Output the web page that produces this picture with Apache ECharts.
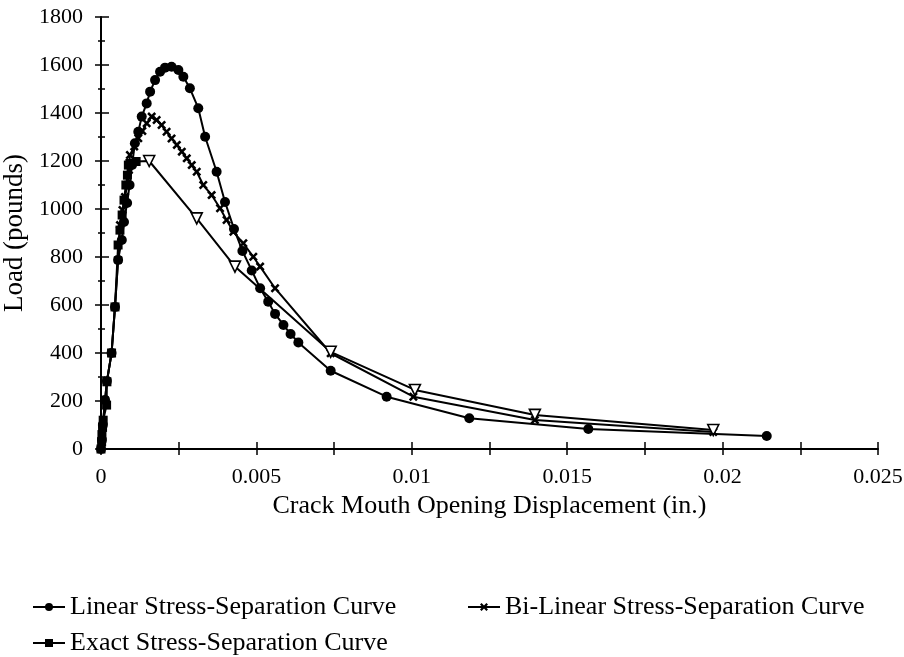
<!DOCTYPE html>
<html>
<head>
<meta charset="utf-8">
<script src="https://cdn.jsdelivr.net/npm/echarts@6/dist/echarts.min.js"></script>
<style>
  html, body { margin: 0; padding: 0; background: #fff; }
  #chart { width: 904px; height: 657px; }
</style>
</head>
<body>
<div id="chart"></div>
<script>
// Load vs. crack mouth opening displacement for three stress-separation laws
const seriesNames = [
  'Linear Stress-Separation Curve',
  'Bi-Linear Stress-Separation Curve',
  'Exact Stress-Separation Curve'
];

const linX = [0, 0.00003, 0.00006, 0.00013, 0.00019, 0.00034, 0.00045, 0.00055, 0.00067, 0.00074,
  0.00084, 0.00092, 0.0010, 0.00109, 0.0012, 0.00131, 0.00147, 0.00158, 0.00174, 0.0019,
  0.00206, 0.00227, 0.00249, 0.00265, 0.00286, 0.00313, 0.00335, 0.00372, 0.00399, 0.00428,
  0.00455, 0.00485, 0.00512, 0.00538, 0.0056, 0.00587, 0.0061, 0.00635, 0.00739, 0.00919,
  0.01185, 0.01568, 0.02142];
const linY = [0, 37, 100, 204, 283, 400, 592, 788, 871, 946,
  1025, 1100, 1183, 1274, 1322, 1385, 1440, 1489, 1537, 1572,
  1589, 1593, 1579, 1551, 1503, 1420, 1301, 1155, 1029, 917,
  825, 744, 670, 614, 563, 517, 479, 444, 326, 218,
  128, 83, 54];

const biX = [0, 0.00003, 0.00006, 0.00013, 0.00019, 0.00034, 0.00045, 0.00055, 0.00061, 0.00069,
  0.00077, 0.00085, 0.0009, 0.00093, 0.00107, 0.0012, 0.00133, 0.00147, 0.00163, 0.00179,
  0.00195, 0.00211, 0.00227, 0.00244, 0.0026, 0.00276, 0.00292, 0.00308, 0.00329, 0.00356,
  0.00383, 0.00404, 0.00426, 0.00458, 0.0049, 0.00512, 0.0056, 0.00739, 0.01005, 0.01396,
  0.0197];
const biY = [0, 37, 100, 204, 283, 400, 592, 788, 933, 996,
  1050, 1100, 1162, 1225, 1260, 1295, 1325, 1357, 1385, 1371,
  1350, 1322, 1294, 1267, 1239, 1211, 1183, 1155, 1100, 1058,
  1003, 954, 905, 857, 801, 760, 670, 399, 218, 121,
  71];

const exX = [0, 0.00002, 0.00003, 0.00005, 0.00007, 0.00018, 0.00019, 0.00034, 0.00045, 0.00055,
  0.00061, 0.00068, 0.00074, 0.0008, 0.00085, 0.00088, 0.00093, 0.00113, 0.00155,
  0.00308, 0.00431, 0.00739, 0.0101, 0.01396, 0.0197];
const exY = [0, 30, 60, 90, 120, 183, 280, 400, 592, 850,
  912, 975, 1037, 1100, 1141, 1183, 1190, 1198, 1200,
  961, 760, 405, 246, 142, 79];

const xTicks = [0, 0.005, 0.01, 0.015, 0.02, 0.025];
const xTickText = ['0', '0.005', '0.01', '0.015', '0.02', '0.025'];

const FONT = '"Liberation Serif", "Times New Roman", serif';
const INK = '#000';

function pairs(xs, ys) { return xs.map((x, i) => [x, ys[i]]); }

// The exact curve uses squares while loading and open down-triangles from the peak on
const exPeak = exY.lastIndexOf(Math.max(...exY));
const exData = pairs(exX, exY).map((p, i) => i >= exPeak ? {
  value: p, symbol: 'triangle', symbolRotate: 180, symbolSize: 11,
  itemStyle: { color: '#fff', borderColor: INK, borderWidth: 1.6 }
} : p);

const crossMark = 'path://M2,0 L5,3 L8,0 L10,2 L7,5 L10,8 L8,10 L5,7 L2,10 L0,8 L3,5 L0,2 Z';

const grid = { left: 101, right: 26, top: 17, bottom: 208, containLabel: false, outerBoundsMode: 'none' };

const labelMap = {};
xTicks.forEach((v, i) => { labelMap[v.toFixed(4)] = xTickText[i]; });

const chart = echarts.init(document.getElementById('chart'), null, { renderer: 'canvas' });

const baseAxisLine = { show: true, lineStyle: { color: INK, width: 2 } };

chart.setOption({
  animation: false,
  backgroundColor: '#fff',
  grid: grid,
  legend: [
    { data: [seriesNames[0]], left: 27, top: 589 },
    { data: [seriesNames[1]], left: 462, top: 589 },
    { data: [seriesNames[2]], left: 27, top: 625 }
  ].map(l => Object.assign({
    orient: 'horizontal', itemWidth: 32, itemHeight: 10, itemGap: 8,
    textStyle: { fontFamily: FONT, fontSize: 26, color: INK }
  }, l)),
  xAxis: [{
    type: 'value', min: 0, max: 0.025, interval: 0.005,
    position: 'bottom',
    name: 'Crack Mouth Opening Displacement (in.)',
    nameLocation: 'middle', nameGap: 37,
    nameTextStyle: { fontFamily: FONT, fontSize: 26, color: INK },
    axisLine: baseAxisLine,
    axisTick: { show: true, inside: true, length: 7, lineStyle: { color: INK, width: 1.5 } },
    minorTick: { show: true, splitNumber: 2, length: 7, lineStyle: { color: INK, width: 1.5 } },
    axisLabel: {
      margin: 17, fontFamily: FONT, fontSize: 22, color: INK,
      formatter: v => labelMap[v.toFixed(4)] !== undefined ? labelMap[v.toFixed(4)] : ''
    },
    splitLine: { show: false }
  }, {
    type: 'value', min: 0, max: 0.025, interval: 0.005,
    position: 'bottom', offset: 0,
    axisLine: { show: false },
    axisTick: { show: true, inside: false, length: 6, lineStyle: { color: INK, width: 1.5 } },
    minorTick: { show: true, splitNumber: 2, length: 6, lineStyle: { color: INK, width: 1.5 } },
    axisLabel: { show: false },
    splitLine: { show: false }
  }],
  yAxis: [{
    type: 'value', min: 0, max: 1800, interval: 200,
    name: 'Load (pounds)', nameLocation: 'middle', nameGap: 63,
    nameTextStyle: { fontFamily: FONT, fontSize: 27, color: INK },
    axisLine: baseAxisLine,
    axisTick: { show: true, inside: true, length: 8, lineStyle: { color: INK, width: 1.5 } },
    minorTick: { show: true, splitNumber: 2, length: 4, lineStyle: { color: INK, width: 1.5 } },
    axisLabel: { margin: 18, fontFamily: FONT, fontSize: 22, color: INK, formatter: v => String(v) },
    splitLine: { show: false }
  }, {
    type: 'value', min: 0, max: 1800, interval: 200,
    position: 'left', offset: 0,
    axisLine: { show: false },
    axisTick: { show: true, inside: false, length: 6, lineStyle: { color: INK, width: 1.5 } },
    minorTick: { show: true, splitNumber: 2, length: 3, lineStyle: { color: INK, width: 1.5 } },
    axisLabel: { show: false },
    splitLine: { show: false }
  }],
  series: [{
    name: seriesNames[0], type: 'line',
    data: pairs(linX, linY),
    symbol: 'circle', symbolSize: 10,
    itemStyle: { color: INK },
    lineStyle: { color: INK, width: 2 },
    z: 3
  }, {
    name: seriesNames[1], type: 'line',
    data: pairs(biX, biY),
    symbol: crossMark, symbolSize: 9,
    itemStyle: { color: INK },
    lineStyle: { color: INK, width: 2 },
    z: 2
  }, {
    name: seriesNames[2], type: 'line',
    data: exData,
    symbol: 'rect', symbolSize: 9,
    itemStyle: { color: INK },
    lineStyle: { color: INK, width: 2 },
    z: 2
  }]
});
</script>
</body>
</html>
